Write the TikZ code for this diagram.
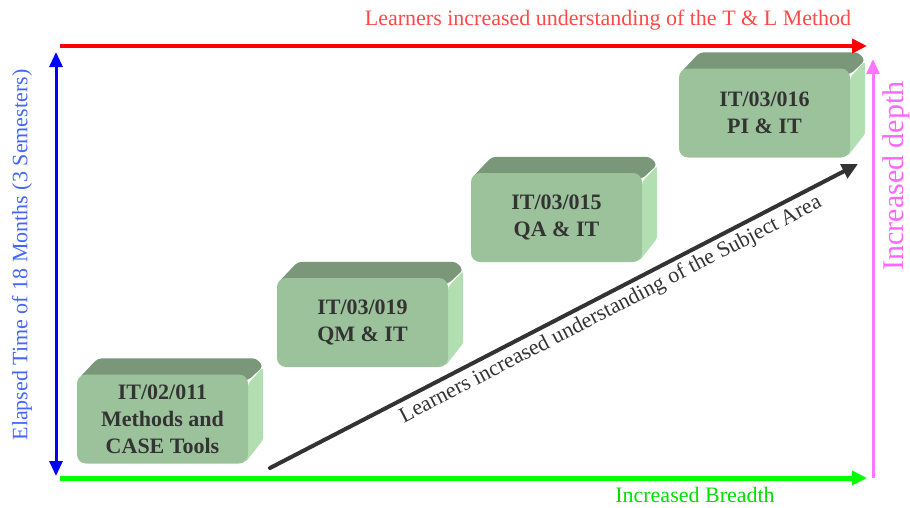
\documentclass[tikz,border=0pt]{standalone}
\usepackage{fontspec}
\setmainfont{Liberation Serif}
\usetikzlibrary{arrows.meta,backgrounds}
\definecolor{bfront}{HTML}{9CC29C}
\definecolor{btop}{HTML}{7A977A}
\definecolor{bside}{HTML}{B2DFB2}
\definecolor{btext}{HTML}{333333}
\definecolor{redtxt}{HTML}{FF4848}
\definecolor{bluetxt}{HTML}{4466FF}
\definecolor{greenarr}{HTML}{00FF00}
\definecolor{greentxt}{HTML}{00E000}
\definecolor{magarr}{HTML}{FF77FF}
\definecolor{magtxt}{HTML}{FF66FF}
\definecolor{diag}{HTML}{333333}
\newcommand\cubebox[4]{%
  \node[boxfront] (#1) at (#2,#3) {#4};
  \begin{pgfonlayer}{background}
    \fill[btop, rounded corners=4pt] ([xshift=2pt,yshift=-4pt]#1.north west) -- ([xshift=21pt,yshift=16pt]#1.north west) -- ([xshift=8pt,yshift=16pt]#1.north east) -- ([xshift=15pt,yshift=8pt]#1.north east) -- ([yshift=-6pt]#1.north east) -- cycle;
    \fill[bside, rounded corners=3pt] ([yshift=-9pt]#1.north east) -- ([xshift=15pt,yshift=7pt]#1.north east) -- ([xshift=15pt,yshift=24pt]#1.south east) -- ([xshift=-3pt,yshift=1pt]#1.south east) -- cycle;
  \end{pgfonlayer}}
\begin{document}
\begin{tikzpicture}[x=1pt,y=-1pt,
  boxfront/.style={draw=none, fill=bfront, rounded corners=9pt, minimum width=171pt, minimum height=89pt, inner sep=0pt, align=center, text=btext, font=\fontsize{22}{27}\selectfont\bfseries},
  lbl/.style={font=\fontsize{22}{26}\selectfont, inner sep=2pt},
  bigarrow/.style={-{Triangle[length=15pt,width=14pt]}}]
\useasboundingbox (0,0) rectangle (910,507);
% boxes
\cubebox{b1}{162.5}{419}{IT/02/011\\Methods and\\CASE Tools}
\cubebox{b2}{362.5}{322.5}{IT/03/019\\QM \& IT}
\cubebox{b3}{556.5}{217.5}{IT/03/015\\QA \& IT}
\cubebox{b4}{764.5}{113}{IT/03/016\\PI \& IT}
% arrow end points
\coordinate (rs) at (60,46);
\coordinate (re) at (867,46);
\coordinate (bs) at (56,476);
\coordinate (be) at (56,52);
\coordinate (gs) at (60,478);
\coordinate (ge) at (867,478);
\coordinate (ms) at (873,478);
\coordinate (me) at (873,59);
\coordinate (ds) at (270,468);
\coordinate (de) at (858,164);
% arrows
\draw[red, line width=4pt, bigarrow] (rs) -- (re);
\draw[blue, line width=3pt, {Triangle[length=15pt,width=13pt]}-{Triangle[length=15pt,width=13pt]}] (bs) -- (be);
\draw[greenarr, line width=5pt, bigarrow] (gs) -- (ge);
\draw[magarr, line width=3pt, -{Triangle[length=15pt,width=13pt]}] (ms) -- (me);
\draw[diag, line width=4pt, line cap=round, -{Triangle[length=16pt,width=15pt]}] (ds) -- (de)
  node[pos=0.567, sloped, below, lbl, inner sep=4pt] (dl) {Learners increased understanding of the Subject Area};
% labels
\node[lbl, text=redtxt] (rl) at (608,20) {Learners increased understanding of the T \& L Method};
\node[lbl, text=bluetxt, rotate=90] (bl) at (22,255) {Elapsed Time of 18 Months (3 Semesters)};
\node[lbl, text=greentxt] (gl) at (695,495) {Increased Breadth};
\node[lbl, text=magtxt, rotate=90, font=\fontsize{30}{33}\selectfont, inner sep=1pt] (ml) at (896,176) {Increased depth};
\end{tikzpicture}
\end{document}
